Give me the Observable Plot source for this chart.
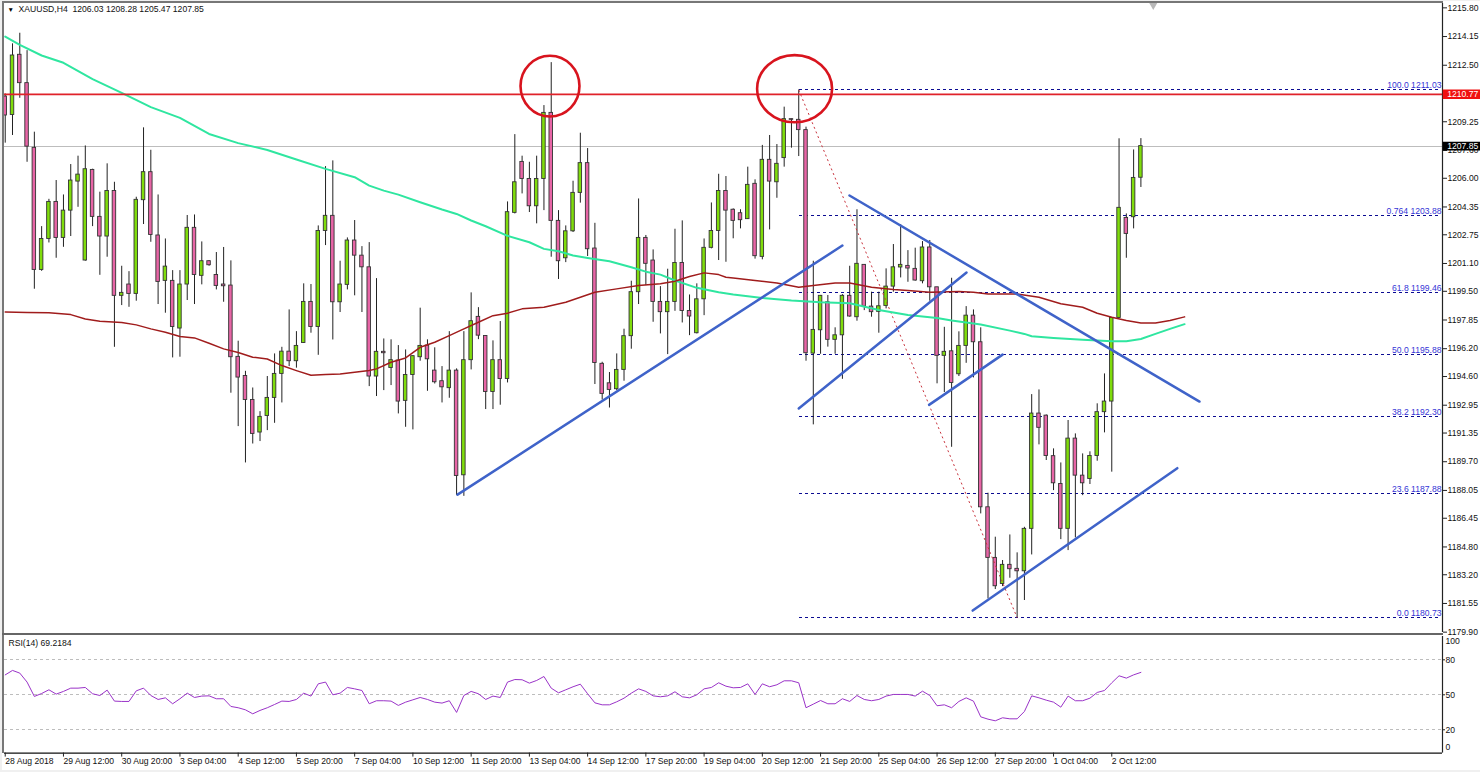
<!DOCTYPE html>
<html><head><meta charset="utf-8">
<script src="https://cdn.jsdelivr.net/npm/d3@7"></script>
<script src="https://cdn.jsdelivr.net/npm/@observablehq/plot@0.6"></script>
<style>
html,body{margin:0;padding:0;background:#fff;overflow:hidden}
#root{position:relative;width:1480px;height:772px;overflow:hidden}
#main,#rsi{position:absolute;left:0}
#main{top:0}#rsi{top:633px}
svg{display:block;background:transparent}
.b{position:absolute}
</style></head><body>
<div id="root">
<div id="main"></div><div id="rsi"></div>
<div class="b" style="left:0;top:0;width:2px;height:772px;background:#f0f0f0"></div>
<div class="b" style="left:2px;top:1px;width:2px;height:752px;background:#777"></div>
<div class="b" style="left:0;top:0;width:1480px;height:1px;background:#f0f0f0"></div>
<div class="b" style="left:2px;top:1px;width:1441px;height:2px;background:#777"></div>
<div class="b" style="left:2px;top:632.5px;width:1441px;height:2.5px;background:#666"></div>
<div class="b" style="left:0;top:770px;width:1480px;height:2px;background:#f0f0f0"></div>
</div>
<script>
const open=[1210.70,1209.64,1213.10,1211.47,1207.75,1200.73,1202.51,1204.64,1202.57,1204.14,1205.81,1201.27,1206.48,1203.78,1202.65,1205.27,1199.24,1199.89,1199.35,1204.74,1206.35,1202.71,1200.10,1200.10,1197.36,1199.89,1203.15,1200.39,1201.23,1200.44,1199.89,1199.83,1195.73,1194.63,1193.25,1191.38,1192.33,1193.37,1194.75,1196.03,1195.48,1196.53,1198.89,1197.45,1202.97,1203.84,1198.87,1199.87,1202.42,1201.55,1200.88,1194.60,1196.02,1195.09,1195.52,1193.20,1194.69,1195.71,1196.38,1194.94,1194.33,1193.93,1194.94,1188.92,1195.54,1198.03,1196.93,1193.71,1195.54,1194.46,1204.01,1206.94,1205.96,1204.39,1205.96,1209.76,1203.55,1201.40,1202.95,1205.16,1206.87,1201.96,1195.33,1194.21,1193.87,1194.98,1196.92,1199.45,1202.57,1201.27,1198.89,1198.30,1198.89,1201.13,1198.37,1197.09,1199.04,1202.00,1202.97,1205.27,1204.19,1203.99,1203.65,1205.68,1201.48,1207.06,1205.77,1207.16,1209.40,1209.36,1208.77,1195.92,1197.26,1198.87,1196.71,1196.97,1199.24,1198.01,1201.02,1198.62,1198.32,1198.66,1199.77,1200.87,1200.96,1200.79,1200.08,1202.02,1199.73,1195.79,1196.05,1194.73,1196.36,1198.10,1196.57,1187.08,1184.17,1182.67,1183.77,1183.54,1183.40,1185.84,1192.47,1192.35,1190.02,1188.42,1185.84,1191.03,1188.90,1188.71,1190.03,1192.55,1193.16,1197.97,1203.72,1203.76,1206.03];
const close=[1209.61,1213.06,1211.47,1207.82,1200.73,1202.51,1204.64,1202.57,1204.14,1205.87,1206.21,1206.52,1203.78,1202.65,1205.27,1199.24,1199.41,1199.35,1204.76,1206.35,1202.74,1200.04,1200.92,1197.45,1199.89,1203.15,1200.44,1201.23,1201.00,1199.81,1199.79,1195.71,1194.54,1193.25,1191.30,1192.28,1193.37,1194.75,1196.03,1195.48,1196.36,1198.89,1197.45,1202.97,1203.84,1198.87,1199.89,1202.42,1201.55,1200.88,1194.60,1196.02,1195.94,1195.54,1193.16,1194.69,1195.77,1196.36,1195.59,1194.27,1193.98,1194.94,1188.88,1195.54,1197.78,1196.95,1193.71,1195.54,1194.46,1204.05,1205.77,1205.96,1204.39,1205.96,1209.76,1203.55,1201.23,1202.95,1205.16,1206.87,1201.92,1195.38,1193.60,1193.83,1194.98,1196.92,1199.45,1202.57,1201.08,1198.89,1198.30,1198.89,1201.13,1198.37,1198.05,1199.04,1202.00,1202.97,1205.27,1204.14,1203.55,1203.59,1205.62,1201.52,1207.06,1205.81,1206.83,1209.40,1209.36,1208.77,1195.94,1197.28,1199.24,1196.71,1196.97,1199.24,1198.05,1201.08,1198.62,1198.30,1198.64,1199.77,1200.88,1201.02,1200.81,1200.12,1202.02,1199.73,1195.79,1196.02,1194.23,1196.36,1198.10,1196.57,1187.08,1184.17,1182.54,1183.77,1183.52,1183.40,1185.84,1192.47,1191.65,1190.03,1188.46,1185.84,1191.03,1188.90,1188.46,1190.03,1192.55,1193.16,1197.97,1204.30,1202.80,1206.02,1207.85];
const high=[1210.85,1213.73,1214.34,1213.34,1208.65,1203.22,1204.79,1205.87,1205.04,1206.79,1207.27,1207.86,1206.52,1205.20,1206.83,1205.77,1200.94,1200.63,1204.91,1208.90,1207.61,1205.04,1202.51,1200.69,1200.69,1203.86,1203.89,1202.34,1201.27,1201.73,1202.02,1201.25,1196.63,1194.90,1193.94,1192.58,1194.60,1195.90,1196.28,1198.43,1197.18,1199.93,1199.89,1203.26,1206.67,1207.00,1201.23,1202.57,1203.57,1202.07,1202.30,1200.23,1196.76,1196.71,1196.38,1196.13,1195.80,1198.53,1196.71,1196.25,1195.17,1197.18,1195.04,1197.18,1199.41,1198.56,1196.95,1196.65,1197.76,1204.64,1208.51,1207.27,1206.92,1207.27,1210.18,1212.65,1204.14,1203.26,1205.83,1208.59,1207.71,1203.41,1195.42,1194.83,1195.90,1197.32,1200.08,1204.81,1202.71,1201.88,1199.77,1200.77,1203.07,1203.55,1199.29,1199.93,1202.51,1204.58,1206.23,1206.10,1204.24,1204.19,1206.64,1205.91,1207.89,1208.46,1207.94,1210.09,1209.40,1211.08,1208.94,1201.23,1199.26,1199.26,1197.40,1199.31,1200.94,1204.19,1201.04,1199.45,1199.45,1200.79,1202.19,1203.34,1201.84,1201.98,1202.36,1202.42,1199.73,1197.43,1200.25,1197.17,1198.62,1198.43,1197.40,1187.89,1185.36,1184.02,1185.49,1184.46,1185.93,1193.56,1193.83,1192.39,1190.44,1189.63,1192.07,1191.30,1190.15,1190.27,1193.03,1194.75,1197.97,1208.27,1203.95,1207.63,1208.28];
const low=[1208.02,1208.46,1210.60,1206.92,1199.62,1200.65,1202.28,1201.40,1202.03,1202.65,1204.33,1201.23,1203.22,1200.42,1201.46,1196.28,1198.68,1198.58,1198.93,1203.34,1202.32,1198.74,1198.24,1195.67,1195.71,1198.97,1198.74,1199.87,1200.94,1199.58,1198.87,1193.64,1191.72,1189.63,1190.72,1190.86,1191.49,1191.91,1193.08,1195.17,1195.08,1196.50,1197.09,1195.82,1202.13,1196.70,1198.28,1199.58,1199.24,1198.28,1194.02,1193.45,1193.79,1194.08,1192.45,1191.68,1191.53,1195.48,1193.75,1194.17,1193.08,1193.35,1187.75,1187.71,1194.98,1196.72,1192.70,1192.70,1192.95,1194.23,1203.95,1205.10,1204.03,1203.38,1204.14,1201.46,1200.18,1201.15,1202.88,1204.57,1201.50,1194.14,1193.25,1192.79,1193.79,1194.33,1196.17,1198.74,1199.83,1197.72,1197.05,1195.86,1198.35,1197.68,1196.95,1197.05,1198.10,1201.94,1201.27,1201.17,1202.52,1203.09,1203.63,1201.35,1201.31,1203.03,1204.85,1206.64,1207.73,1207.25,1195.48,1191.82,1195.88,1196.29,1195.88,1194.44,1198.01,1197.78,1198.39,1198.01,1197.09,1198.49,1199.45,1200.27,1200.02,1200.08,1199.93,1198.93,1194.18,1193.68,1190.53,1194.60,1195.36,1194.52,1186.70,1181.81,1182.35,1182.52,1183.00,1180.73,1181.72,1184.34,1190.67,1189.77,1188.04,1185.22,1184.59,1185.32,1187.75,1188.39,1189.73,1191.36,1189.10,1197.93,1201.40,1203.09,1205.47];

const greenMaBars=[0,2,5,8,12,16,20,24,28,32,36,40,44,48,50,52,54,57,60,62,64,66,69,72,74,76,78,80,83,86,88,90,92,95,98,100,104,108,112,116,120,124,128,130,134,138,140,141,144,148,152,154,156,158,160,162];
const greenMaPrices=[1214.15,1213.67,1213.06,1212.64,1211.70,1210.91,1210.09,1209.47,1208.55,1208.02,1207.63,1207.08,1206.54,1206.06,1205.58,1205.29,1205.06,1204.62,1204.20,1203.95,1203.57,1203.24,1202.69,1202.32,1201.94,1201.80,1201.56,1201.42,1201.23,1200.88,1200.63,1200.46,1200.12,1199.70,1199.45,1199.31,1199.12,1198.97,1198.87,1198.81,1198.43,1198.14,1197.97,1197.82,1197.59,1197.24,1197.05,1196.92,1196.82,1196.71,1196.63,1196.63,1196.76,1197.05,1197.34,1197.61];
const redMaBars=[0,3,6,9,11,13,16,18,20,22,24,26,28,30,32,34,36,38,40,42,44,46,48,50,51,53,55,57,59,61,63,65,67,69,71,74,77,79,81,84,87,90,92,94,96,98,99,100,103,106,109,111,114,116,119,122,124,127,131,133,135,139,142,145,148,150,152,154,156,158,160,162];
const redMaPrices=[1198.31,1198.28,1198.26,1198.16,1197.91,1197.78,1197.70,1197.57,1197.34,1197.15,1196.90,1196.82,1196.51,1196.19,1195.98,1195.71,1195.61,1195.23,1194.94,1194.67,1194.71,1194.75,1194.85,1194.95,1195.04,1195.42,1195.67,1196.28,1196.57,1196.95,1197.34,1197.72,1198.10,1198.24,1198.49,1198.58,1198.87,1199.16,1199.45,1199.64,1199.83,1199.93,1200.08,1200.35,1200.56,1200.46,1200.31,1200.27,1200.12,1199.98,1199.73,1199.83,1199.98,1199.98,1199.73,1199.60,1199.54,1199.45,1199.49,1199.45,1199.35,1199.35,1199.16,1198.78,1198.58,1198.24,1198.01,1197.82,1197.68,1197.68,1197.82,1198.03];

const rsi=[67.1,70.9,68.6,60.9,48.6,51.1,54.3,50.6,52.9,55.7,55.7,56.3,50.9,49.4,54,44.6,44.3,44.3,53.4,55.7,49.4,46,47.4,42.3,46.6,51.4,47.7,48.9,49.1,46.6,46.6,40,38.9,37.1,33.7,36.6,38.9,41.7,44.6,44.3,46,51.4,48.9,59.4,60.9,50,51.4,56.3,55.1,53.7,42.3,44.9,44.9,44.6,40.9,43.7,45.7,47.7,46,43.7,42.9,44.9,34.9,49.4,52.9,50.9,46,48.9,47.7,60.9,63.1,62.9,60,62.3,65.7,55.7,51.7,54.3,56.9,59.1,50.9,43.1,41.4,41.4,44,47.1,51.4,55.1,52.9,49.1,48.3,49.1,52.6,48.3,47.4,50,55.1,56.3,60.3,57.4,56,56.3,59.4,50.3,59.4,56.9,58.6,62,62,60.3,38.9,42,45.1,42.3,42.3,46.6,44.3,49.4,46,44.9,46,48.9,50.3,50.3,50.3,48.9,53.1,49.4,40.6,41.4,38.9,44.3,47.4,44.6,31.1,29.1,27.7,30.3,29.4,29.4,35.7,49.1,47.4,45.4,43.7,39.4,48.9,44.9,44.9,47.1,52,53.7,60.3,66.3,64.3,67.1,69.2184];

const priceTicks=[1215.80,1214.15,1212.50,1210.85,1209.25,1207.60,1206.00,1204.35,1202.75,1201.10,1199.50,1197.85,1196.20,1194.60,1192.95,1191.35,1189.70,1188.05,1186.45,1184.80,1183.20,1181.55,1179.90];
const timeTickBars=d3.range(0,153,8);
const timeLabels=["28 Aug 2018","29 Aug 12:00","30 Aug 20:00","3 Sep 04:00","4 Sep 12:00","5 Sep 20:00","7 Sep 04:00","10 Sep 12:00","11 Sep 20:00","13 Sep 04:00","14 Sep 12:00","17 Sep 20:00","19 Sep 04:00","20 Sep 12:00","21 Sep 20:00","25 Sep 04:00","26 Sep 12:00","27 Sep 20:00","1 Oct 04:00","2 Oct 12:00"];

const fiboLevels=[1211.08,1203.88,1199.46,1195.88,1192.30,1187.88,1180.73];
const fiboLabels=["100.0 1211.03","0.764 1203.88","61.8 1199.46","50.0 1195.88","38.2 1192.30","23.6 1187.88","0.0 1180.73"];
const fiboStartBar=109, fiboEndBar=197;

const trendX1=[62.13,115.97,109,126.9,132.9];
const trendY1=[1187.81,1205.01,1192.76,1192.97,1181.14];
const trendX2=[115,164.05,132.05,137,161];
const trendY2=[1202.13,1193.16,1200.58,1195.86,1189.33];

const circleBars=[74.9,108.5];
const circlePrices=[1211.27,1211.12];
const circleBarRadius=[4.05,5.15];
const circlePriceRadius=[1.75,1.93];

const resistance=1210.83, resistanceLabel="1210.77";
const lastPrice=1207.85, lastLabel="1207.85";
const header="XAUUSD,H4  1206.03 1208.28 1205.47 1207.85";
const rsiTitle="RSI(14) 69.2184";
const rsiLevels=[80,50,20];

const candles=open.map((o,i)=>({i,o,c:close[i],h:high[i],l:low[i]}));
const xDomain=[-0.1,197.43], xEnd=xDomain[1];
const yDomain=[1179.88,1216.05];
const font={fontFamily:"'Liberation Sans',Arial,sans-serif",fontSize:"8.6px",background:"transparent",color:"#111",overflow:"visible"};

function ellipses(index,{x,y}){
  const g=document.createElementNS("http://www.w3.org/2000/svg","g");
  circleBars.forEach((b,k)=>{
    const e=document.createElementNS("http://www.w3.org/2000/svg","ellipse");
    e.setAttribute("cx",x(b));e.setAttribute("cy",y(circlePrices[k]));
    e.setAttribute("rx",x(b+circleBarRadius[k])-x(b));
    e.setAttribute("ry",y(circlePrices[k]-circlePriceRadius[k])-y(circlePrices[k]));
    e.setAttribute("fill","none");e.setAttribute("stroke","#d8141e");e.setAttribute("stroke-width","2.6");
    g.appendChild(e);
  });
  return g;
}

const main=Plot.plot({
  width:1480,height:633,marginLeft:4,marginRight:38,marginTop:3,marginBottom:1,
  x:{domain:xDomain,axis:null},y:{domain:yDomain},style:font,
  marks:[
    Plot.ruleY([lastPrice],{x1:xDomain[0],x2:xEnd,stroke:"#bdbdbd",strokeWidth:1,shapeRendering:"crispEdges"}),
    Plot.link(fiboLevels,{x1:fiboStartBar,x2:fiboEndBar,y1:d=>d,y2:d=>d,stroke:"#0c0c92",strokeWidth:1,strokeDasharray:"3,3",shapeRendering:"crispEdges"}),
    Plot.ruleX(candles,{x:"i",y1:"l",y2:"h",stroke:"#222",strokeWidth:1,clip:"frame"}),
    Plot.rect(candles,{x1:d=>d.i-0.24,x2:d=>d.i+0.24,y1:"o",y2:"c",fill:d=>d.c>=d.o?"#7fdc0c":"#e765a6",stroke:"#333",strokeWidth:0.9,clip:"frame"}),
    Plot.link(fiboLevels.slice(0,1),{x1:fiboStartBar,x2:139,y1:d=>d,y2:1180.73,stroke:"#c8323c",strokeWidth:1,strokeDasharray:"2,3"}),
    Plot.line(greenMaBars,{x:d=>d,y:(d,i)=>greenMaPrices[i],stroke:"#2fe6a0",strokeWidth:2}),
    Plot.line(redMaBars,{x:d=>d,y:(d,i)=>redMaPrices[i],stroke:"#a01c1c",strokeWidth:1.5}),
    Plot.ruleY([resistance],{x1:xDomain[0],x2:xEnd,stroke:"#e0222a",strokeWidth:1.8}),
    Plot.link(trendX1,{x1:d=>d,y1:(d,i)=>trendY1[i],x2:(d,i)=>trendX2[i],y2:(d,i)=>trendY2[i],stroke:"#3f63c9",strokeWidth:2.5,strokeLinecap:"round"}),
    ellipses,
    Plot.dot([157.7],{x:d=>d,y:()=>1215.98,symbol:"triangle",rotate:180,fill:"#b8b8b8",r:3.4}),
    Plot.text([header],{x:xDomain[0],y:yDomain[1],text:d=>d,textAnchor:"start",lineAnchor:"middle",dx:14,dy:6,fill:"#111"}),
    Plot.text(["▼"],{x:xDomain[0],y:yDomain[1],text:d=>d,textAnchor:"start",lineAnchor:"middle",dx:3,dy:6,fill:"#000",fontSize:6.5}),
    Plot.ruleX([xEnd],{stroke:"#222",strokeWidth:1.2}),
    Plot.axisY(priceTicks,{anchor:"right",tickSize:4,tickPadding:1,tickFormat:d=>d.toFixed(2),textAnchor:"start",stroke:"#222",fill:"#111"}),
    Plot.text(fiboLabels,{x:197.3,y:(d,i)=>fiboLevels[i],text:d=>d,textAnchor:"end",lineAnchor:"bottom",dy:-1.5,fill:"#3535d6"}),
    Plot.ruleY([resistance],{x1:xEnd+0.1,x2:xEnd+5.3,stroke:"#f01010",strokeWidth:9.5}),
    Plot.text([resistanceLabel],{x:xEnd+0.65,y:[resistance],text:d=>d,textAnchor:"start",fill:"#fff"}),
    Plot.ruleY([lastPrice],{x1:xEnd+0.1,x2:xEnd+5.3,stroke:"#000",strokeWidth:8.8}),
    Plot.text([lastLabel],{x:xEnd+0.65,y:[lastPrice],text:d=>d,textAnchor:"start",fill:"#fff"})
  ]
});
document.getElementById("main").appendChild(main);

const rsiPlot=Plot.plot({
  width:1480,height:139,marginLeft:4,marginRight:38,marginTop:3,marginBottom:19.4,
  x:{domain:xDomain},y:{domain:[0,100]},style:font,
  marks:[
    Plot.ruleY(rsiLevels,{x1:xDomain[0],x2:xEnd,stroke:"#bdbdbd",strokeDasharray:"3,3",strokeWidth:1,shapeRendering:"crispEdges"}),
    Plot.line(rsi,{x:(d,i)=>i,y:d=>d,stroke:"#9a33c8",strokeWidth:1}),
    Plot.ruleY([0],{x1:xDomain[0],x2:xEnd,stroke:"#111",strokeWidth:1.1}),
    Plot.ruleX([xEnd],{y1:0,y2:100,stroke:"#222",strokeWidth:1.2}),
    Plot.axisX(timeTickBars,{tickSize:4,tickPadding:1,tickFormat:d=>timeLabels[d/8],textAnchor:"start",stroke:"#222",fill:"#111"}),
    Plot.axisY(rsiLevels,{anchor:"right",tickSize:2,tickPadding:1,textAnchor:"start",stroke:"#222",fill:"#111"}),
    Plot.text(["100"],{x:xEnd,y:[100],text:d=>d,textAnchor:"start",dx:3,dy:5,fill:"#111"}),
    Plot.text(["0"],{x:xEnd,y:[0],text:d=>d,textAnchor:"start",dx:3,dy:-6,fill:"#111"}),
    Plot.text([rsiTitle],{x:xDomain[0],y:[100],text:d=>d,textAnchor:"start",dx:4,dy:7,fill:"#111"})
  ]
});
document.getElementById("rsi").appendChild(rsiPlot);
</script>
</body></html>
